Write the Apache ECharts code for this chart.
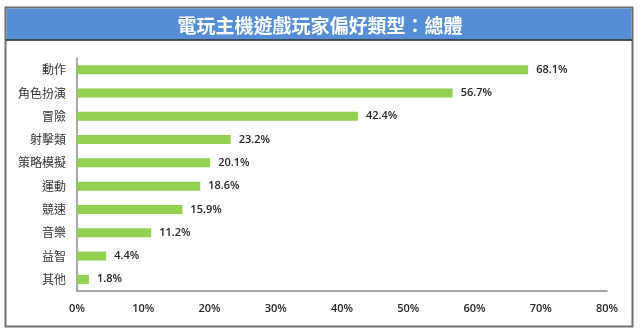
<!DOCTYPE html>
<html>
<head>
<meta charset="utf-8">
<script src="https://cdn.jsdelivr.net/npm/echarts@6/dist/echarts.min.js"></script>
<style>
  html, body { margin: 0; padding: 0; background: #fff; }
  #chart { width: 640px; height: 333px; }
</style>
</head>
<body>
<div id="chart"></div>
<script>
// Game genre preference among console players (overall)
const titleText = '電玩主機遊戲玩家偏好類型：總體';
const categories = ['動作', '角色扮演', '冒險', '射擊類', '策略模擬', '運動', '競速', '音樂', '益智', '其他'];
const shares = [68.1, 56.7, 42.4, 23.2, 20.1, 18.6, 15.9, 11.2, 4.4, 1.8];
const axisMax = 80;
const axisStep = 10;

const chart = echarts.init(document.getElementById('chart'), null, { renderer: 'canvas' });

const cjk = '"Noto Sans CJK TC", "Noto Sans CJK SC", sans-serif';
const latin = '"Open Sans", "Liberation Sans", sans-serif';

chart.setOption({
  backgroundColor: '#ffffff',
  animation: false,
  graphic: [
    {
      type: 'rect',
      shape: { x: 5.5, y: 7.5, width: 627, height: 319 },
      style: { fill: '#ffffff', stroke: '#6f6f6f', lineWidth: 2 },
      z: -10
    },
    {
      type: 'rect',
      shape: { x: 6.5, y: 8.5, width: 625, height: 31 },
      style: { fill: '#558ed5' },
      z: -5
    },
    {
      type: 'line',
      shape: { x1: 6, y1: 40, x2: 632, y2: 40 },
      style: { stroke: '#1a1a1a', lineWidth: 1.5 },
      z: -4
    }
  ],
  title: {
    text: titleText,
    left: 'center',
    top: 11,
    textStyle: {
      color: '#ffffff',
      fontSize: 19,
      fontWeight: 'bold',
      fontFamily: cjk
    }
  },
  grid: { left: 77, right: 33, top: 58, bottom: 42 },
  xAxis: {
    type: 'value',
    min: 0,
    max: axisMax,
    interval: axisStep,
    axisLine: { show: true, lineStyle: { color: '#8c8c8c', width: 1.5 } },
    axisTick: { show: false },
    splitLine: { show: false },
    axisLabel: {
      formatter: '{value}%',
      color: '#262626',
      fontSize: 11,
      fontWeight: 600,
      fontFamily: latin,
      margin: 12
    }
  },
  yAxis: {
    type: 'category',
    data: categories,
    inverse: true,
    axisLine: { show: true, lineStyle: { color: '#8c8c8c', width: 1.5 } },
    axisTick: { show: false },
    axisLabel: {
      color: '#333333',
      fontSize: 12,
      fontFamily: cjk,
      margin: 11
    }
  },
  series: [{
    type: 'bar',
    data: shares,
    barWidth: 9,
    itemStyle: { color: '#92d050' },
    label: {
      show: true,
      position: 'right',
      distance: 8,
      formatter: p => p.value.toFixed(1) + '%',
      color: '#262626',
      fontSize: 11,
      fontWeight: 600,
      fontFamily: latin
    }
  }]
});
</script>
</body>
</html>
